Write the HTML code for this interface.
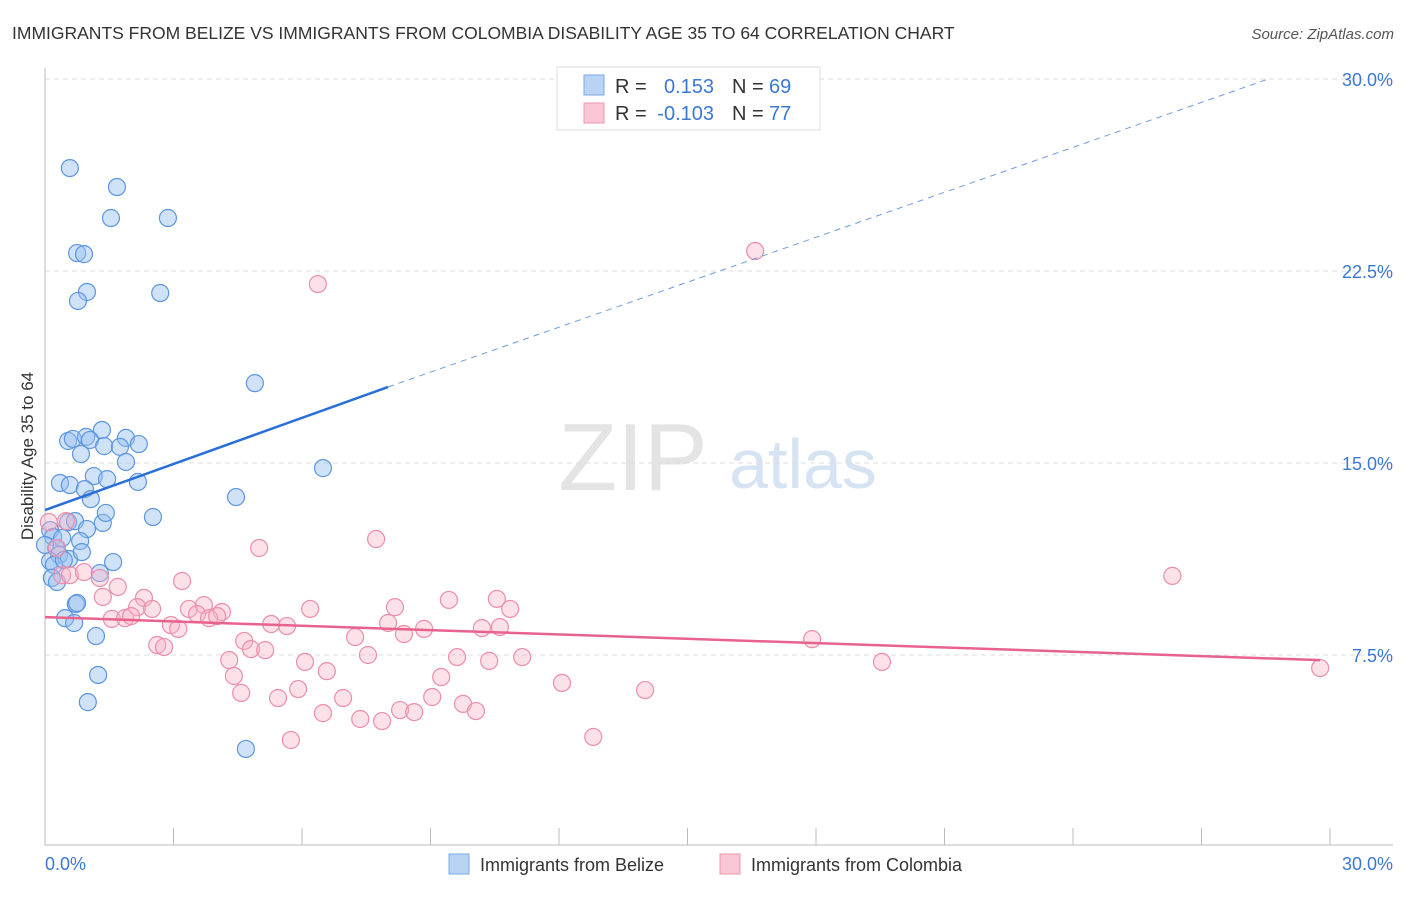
<!DOCTYPE html>
<html><head><meta charset="utf-8"><style>
body{margin:0;background:#fff;font-family:"Liberation Sans",sans-serif;}
svg text{font-family:"Liberation Sans",sans-serif;}
</style></head><body>
<svg id="chart" width="1406" height="892" xmlns="http://www.w3.org/2000/svg">
<text x="12" y="39" font-size="17.5" fill="#333">IMMIGRANTS FROM BELIZE VS IMMIGRANTS FROM COLOMBIA DISABILITY AGE 35 TO 64 CORRELATION CHART</text>
<text x="1394" y="39" font-size="15" fill="#555" text-anchor="end" font-style="italic">Source: ZipAtlas.com</text>
<g>
<text x="633" y="490" font-size="96" fill="#e4e4e4" font-family="Liberation Serif, serif" text-anchor="middle">ZIP</text>
<text x="803" y="488" font-size="70" fill="#d6e3f3" text-anchor="middle">atlas</text>
</g>
<g id="grid"></g>
<g id="axes"></g>
<g id="pts"></g>
<g id="trend"></g>
<text transform="translate(33,456) rotate(-90)" font-size="17" fill="#333" text-anchor="middle">Disability Age 35 to 64</text>
<g>
<rect x="557" y="67" width="263" height="63" fill="#fff" stroke="#ddd"/>
<rect x="584" y="75" width="20" height="20" fill="#b9d3f5" stroke="#7aa8e6"/>
<rect x="584" y="103" width="20" height="20" fill="#f9c6d5" stroke="#ee97b2"/>
<text x="615" y="93" font-size="20" fill="#333">R = </text><text x="714" y="93" font-size="20" fill="#3a78d4" text-anchor="end">0.153</text>
<text x="732" y="93" font-size="20" fill="#333">N = </text><text x="769" y="93" font-size="20" fill="#3a78d4">69</text>
<text x="615" y="120" font-size="20" fill="#333">R = </text><text x="714" y="120" font-size="20" fill="#3a78d4" text-anchor="end">-0.103</text>
<text x="732" y="120" font-size="20" fill="#333">N = </text><text x="769" y="120" font-size="20" fill="#3a78d4">77</text>
</g>
<g>
<rect x="449" y="854" width="20" height="20" fill="#b9d3f5" stroke="#7aa8e6"/>
<text x="480" y="871" font-size="18" fill="#333">Immigrants from Belize</text>
<rect x="720" y="854" width="20" height="20" fill="#f9c6d5" stroke="#ee97b2"/>
<text x="751" y="871" font-size="18" fill="#333">Immigrants from Colombia</text>
</g>
</svg>
<script>
const belizeX=[0.58,1.68,1.54,2.87,0.75,0.91,0.98,0.77,2.69,4.90,0.54,0.65,0.96,1.33,1.89,2.19,1.05,1.38,1.75,0.84,1.89,6.49,1.14,0.35,0.58,1.45,0.93,2.17,1.07,4.46,0.54,0.70,1.35,1.42,2.52,0.98,0.12,0.19,0.40,0.82,0.26,0.00,0.33,0.56,0.86,0.12,0.21,0.44,1.59,1.28,0.16,0.28,0.72,0.75,0.47,0.68,1.19,1.24,1.00,4.69];
const belizeY=[26.52,25.78,24.57,24.57,23.20,23.16,21.68,21.33,21.64,18.12,15.86,15.94,16.02,16.29,15.98,15.74,15.90,15.66,15.63,15.35,15.04,14.80,14.49,14.22,14.14,14.37,13.98,14.26,13.59,13.67,12.69,12.73,12.66,13.05,12.89,12.42,12.38,12.11,12.07,11.95,11.68,11.80,11.41,11.25,11.52,11.17,11.02,11.21,11.13,10.70,10.51,10.35,9.49,9.53,8.94,8.75,8.24,6.72,5.66,3.83];
const colX=[16.58,6.37,7.73,5.00,26.32,0.49,0.09,0.28,0.40,0.58,1.28,0.91,1.70,1.35,2.31,2.15,2.50,3.20,3.36,3.71,3.55,4.13,1.56,1.87,2.01,3.83,4.02,6.19,8.17,9.43,10.55,10.86,2.94,3.11,5.28,5.65,8.01,8.38,8.85,10.20,10.62,2.62,2.78,4.65,4.81,5.14,7.24,17.91,4.30,6.07,6.58,7.54,9.62,10.37,11.14,19.54,29.77,4.41,5.91,9.25,12.07,14.01,4.58,5.44,6.96,9.04,9.76,6.49,7.36,7.87,8.29,8.62,10.06,5.74,12.80];
const colY=[23.28,21.99,12.03,11.68,10.59,12.73,12.69,11.68,10.62,10.62,10.51,10.74,10.16,9.77,9.73,9.37,9.30,10.39,9.30,9.45,9.10,9.18,8.91,8.94,9.02,8.94,9.02,9.30,9.37,9.65,9.69,9.30,8.67,8.52,8.71,8.63,8.75,8.32,8.52,8.55,8.59,7.89,7.81,8.05,7.73,7.69,8.20,8.12,7.30,7.23,6.87,7.50,7.42,7.27,7.42,7.23,6.99,6.68,6.17,6.64,6.41,6.13,6.02,5.82,5.82,5.86,5.59,5.23,5.00,4.92,5.35,5.27,5.31,4.18,4.30];
const yTicks=[7.5,15.0,22.5,30.0];
const yTickLabels=["7.5%","15.0%","22.5%","30.0%"];
const xTicks=[0,3,6,9,12,15,18,21,24,27,30];
const belizeTrend=[0,13.16,8.01,17.97,28.56,30.0];
const colTrend=[0,8.98,29.77,7.30];
const NS="http://www.w3.org/2000/svg";
const xs=v=>45+v*(1285/30);
const ys=v=>847-v*(192/7.5);
function mk(parent,tag,attrs){const e=document.createElementNS(NS,tag);for(const k in attrs)e.setAttribute(k,attrs[k]);document.getElementById(parent).appendChild(e);return e;}
yTicks.forEach((t,i)=>{
 const g=mk('grid','line',{x1:45,x2:1393,y1:ys(t),y2:ys(t),stroke:'#ddd','stroke-dasharray':'5,4'});
 
 
 const l=mk('grid','text',{x:1393,y:ys(t)+7,'font-size':18,fill:'#3a78d4','text-anchor':'end'});
 l.textContent=yTickLabels[i];
 
 
});
const ax=mk('axes','line',{x1:45,x2:45,y1:68,y2:845,stroke:'#bbb'});


const bx=mk('axes','line',{x1:45,x2:1393,y1:845,y2:845,stroke:'#bbb'});


xTicks.forEach(t=>{
 const k=mk('axes','line',{x1:xs(t),x2:xs(t),y1:828,y2:845,stroke:'#bbb'});
 
 
});
const xl0=mk('axes','text',{x:45,y:870,'font-size':18,fill:'#3a78d4'});xl0.textContent=xTicks[0].toFixed(1)+'%';


const xl1=mk('axes','text',{x:1393,y:870,'font-size':18,fill:'#3a78d4','text-anchor':'end'});xl1.textContent=xTicks[xTicks.length-1].toFixed(1)+'%';


belizeX.forEach((x,i)=>{
 const c=mk('pts','circle',{cx:xs(x),cy:ys(belizeY[i]),r:8.5,fill:'rgba(150,190,240,0.45)',stroke:'#5c96e0','stroke-width':1.2});
 
 
});
colX.forEach((x,i)=>{
 const c=mk('pts','circle',{cx:xs(x),cy:ys(colY[i]),r:8.5,fill:'rgba(248,180,200,0.4)',stroke:'#ec8dab','stroke-width':1.2});
 
 
});
const t1=mk('trend','line',{x1:xs(belizeTrend[0]),y1:ys(belizeTrend[1]),x2:xs(belizeTrend[2]),y2:ys(belizeTrend[3]),stroke:'#2a6fd6','stroke-width':2.5});


const t2=mk('trend','line',{x1:xs(belizeTrend[2]),y1:ys(belizeTrend[3]),x2:xs(belizeTrend[4]),y2:ys(belizeTrend[5]),stroke:'#6b9de0','stroke-width':1,'stroke-dasharray':'6,5'});


const t3=mk('trend','line',{x1:xs(colTrend[0]),y1:ys(colTrend[1]),x2:xs(colTrend[2]),y2:ys(colTrend[3]),stroke:'#e8628e','stroke-width':2.5});


</script>
</body></html>
